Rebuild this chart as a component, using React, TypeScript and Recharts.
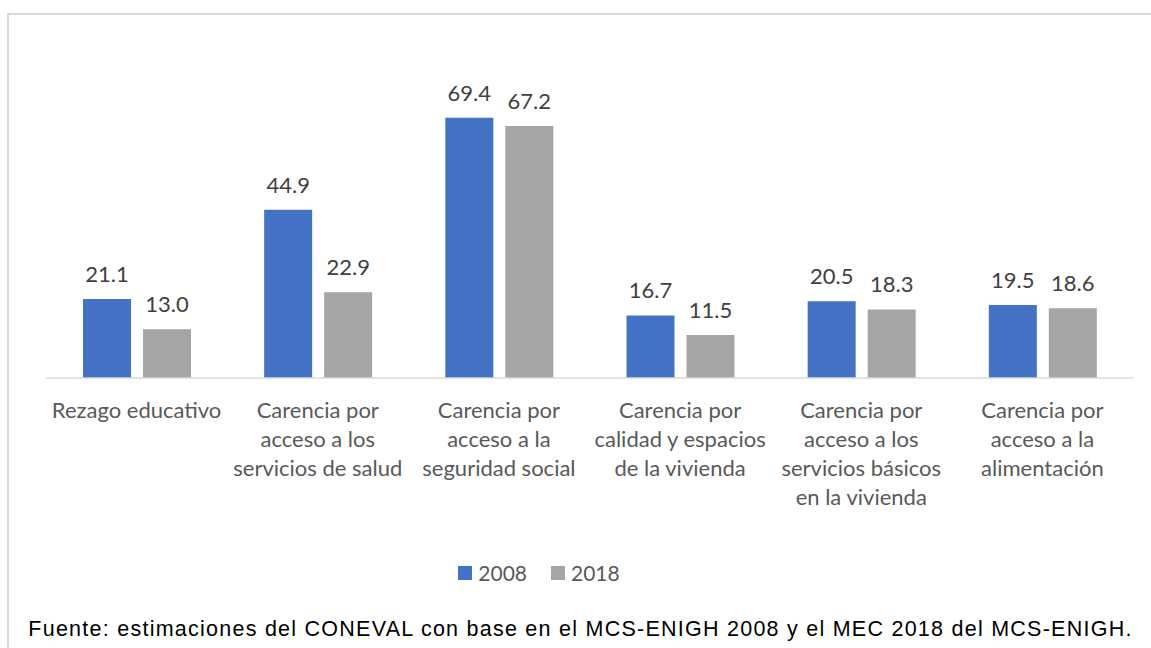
import React from "react";
import { BarChart, Bar, XAxis, YAxis, LabelList, Legend } from "recharts";

const categories = [
  "Rezago educativo",
  "Carencia por\nacceso a los\nservicios de salud",
  "Carencia por\nacceso a la\nseguridad social",
  "Carencia por\ncalidad y espacios\nde la vivienda",
  "Carencia por\nacceso a los\nservicios básicos\nen la vivienda",
  "Carencia por\nacceso a la\nalimentación",
];
const values2008 = [21.1, 44.9, 69.4, 16.7, 20.5, 19.5];
const values2018 = [13.0, 22.9, 67.2, 11.5, 18.3, 18.6];
const seriesNames = ["2008", "2018"];
const footerText =
  "Fuente: estimaciones del CONEVAL con base en el MCS-ENIGH 2008 y el MEC 2018 del MCS-ENIGH.";

const data = categories.map((c, i) => ({
  name: c,
  v2008: values2008[i],
  v2018: values2018[i],
}));

const FONT = "Lato, 'Open Sans', sans-serif";
const COLORS = ["#4472C4", "#A5A5A5"];

const Tick = (props: any) => {
  const { x, y, payload } = props;
  const lines = String(payload.value).split("\n");
  return (
    <text
      x={x}
      y={y + 40}
      textAnchor="middle"
      fill="#595959"
      fontSize={22}
      fontFamily={FONT}
    >
      {lines.map((l: string, i: number) => (
        <tspan key={i} x={x} dy={i === 0 ? 0 : 29}>
          {l}
        </tspan>
      ))}
    </text>
  );
};

const LegendContent = () => (
  <div
    style={{
      display: "flex",
      justifyContent: "center",
      alignItems: "center",
      fontFamily: FONT,
      fontSize: 21,
      color: "#595959",
    }}
  >
    {seriesNames.map((s, i) => (
      <div
        key={s}
        style={{ display: "flex", alignItems: "center", marginLeft: i === 0 ? 0 : 24 }}
      >
        <div style={{ width: 14, height: 14, background: COLORS[i], marginRight: 6 }} />
        <span>{s}</span>
      </div>
    ))}
  </div>
);

export default function App() {
  return (
    <div
      style={{
        position: "absolute",
        left: 0,
        top: 0,
        width: 1151,
        height: 648,
        background: "#fff",
        overflow: "hidden",
      }}
    >
      <div
        style={{
          position: "absolute",
          left: 7,
          top: 13,
          width: 1200,
          height: 700,
          borderTop: "2px solid #d9d9d9",
          borderLeft: "2px solid #d9d9d9",
        }}
      />
      <div style={{ position: "absolute", left: 0, top: 0 }}>
        <BarChart
          width={1151}
          height={648}
          data={data}
          margin={{ top: 78, right: 18, bottom: 0, left: 46 }}
          barCategoryGap={36}
          barGap={12}
        >
          <XAxis
            dataKey="name"
            interval={0}
            axisLine={{ stroke: "#d9d9d9", strokeWidth: 1.5 }}
            tickLine={false}
            tickSize={0}
            tickMargin={0}
            height={270}
            tick={<Tick />}
          />
          <YAxis hide domain={[0, 80]} />
          <Legend
            layout="horizontal"
            verticalAlign="middle"
            align="center"
            wrapperStyle={{ top: 560, left: 0, width: 1078 }}
            content={<LegendContent />}
          />
          <Bar dataKey="v2008" name={seriesNames[0]} fill={COLORS[0]} barSize={48} isAnimationActive={false}>
            <LabelList
              dataKey="v2008"
              position="top"
              offset={17}
              formatter={(v: any) => Number(v).toFixed(1)}
              fill="#404040"
              fontSize={22}
              fontFamily={FONT}
            />
          </Bar>
          <Bar dataKey="v2018" name={seriesNames[1]} fill={COLORS[1]} barSize={48} isAnimationActive={false}>
            <LabelList
              dataKey="v2018"
              position="top"
              offset={17}
              formatter={(v: any) => Number(v).toFixed(1)}
              fill="#404040"
              fontSize={22}
              fontFamily={FONT}
            />
          </Bar>
        </BarChart>
      </div>
      <div
        style={{
          position: "absolute",
          left: 0,
          width: 1161,
          top: 617,
          textAlign: "center",
          fontFamily: "'Liberation Sans', Arial, sans-serif",
          fontSize: 21.5,
          letterSpacing: 1.25,
          color: "#000",
          whiteSpace: "nowrap",
        }}
      >
        {footerText}
      </div>
    </div>
  );
}
